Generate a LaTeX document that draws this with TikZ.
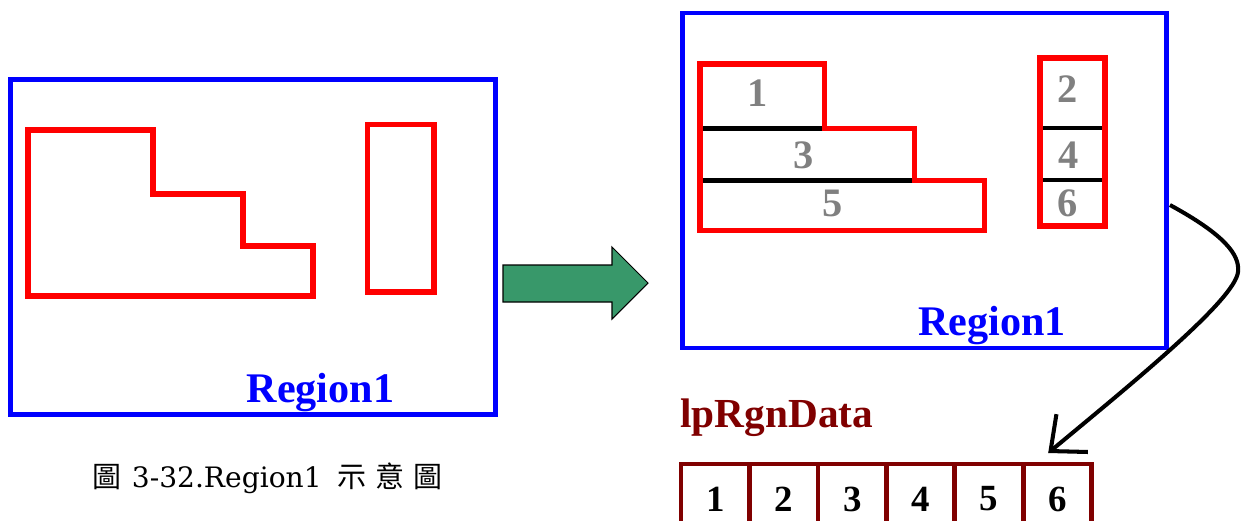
\documentclass[tikz,border=0pt]{standalone}
\usepackage{fontspec}
\usepackage{tikz}
\usetikzlibrary{arrows.meta,positioning}
\newfontfamily\lblfont{Liberation Serif}
\newfontfamily\capfont{DejaVu Serif}
\newfontfamily\cjk{Noto Sans CJK TC}
\definecolor{rgnblue}{RGB}{0,0,255}
\definecolor{rgnred}{RGB}{255,0,0}
\definecolor{datared}{RGB}{128,0,0}
\definecolor{rectgray}{RGB}{128,128,128}
\definecolor{movegreen}{RGB}{56,152,106}
\tikzset{
    %Define standard arrow tip
    >={Straight Barb[length=16pt,width=28pt]},
    %Define style for region boxes
    regionbox/.style={
           rectangle,
           draw=rgnblue, line width=2.8pt,
           outer sep=0pt,
           minimum width=9.7cm,
           minimum height=6.7cm},
    %Define style for red outlines
    outline/.style={
           draw=rgnred, line width=3.1pt},
    splitline/.style={
           draw=black, line width=2.8pt},
    rgnlabel/.style={
           text=rgnblue,
           font=\lblfont\bfseries\fontsize{24}{28}\selectfont},
    rectnum/.style={
           text=rectgray, inner sep=0pt,
           font=\lblfont\bfseries\fontsize{23}{27}\selectfont},
    %Define style for array cells
    cell/.style={
           rectangle,
           draw=datared, line width=2.8pt,
           outer sep=0pt,
           minimum width=1.37cm,
           minimum height=1.4cm,
           font=\lblfont\bfseries\fontsize{21}{25}\selectfont,
           text centered},
    % Define arrow style
    link/.style={
           ->,
           line width=2.3pt}
}

\begin{document}
\begin{tikzpicture}[x=0.02cm,y=-0.02cm]
\useasboundingbox (0,0) rectangle (1249,521);

 %left region
\node[regionbox] (rgnA) at (253,247) {};
\draw[outline] (28,130) -- (153,130) -- (153,194) -- (243,194) -- (243,246)
    -- (313,246) -- (313,296) -- (28,296) -- cycle;
\draw[outline] (367.5,124.5) rectangle (434,292);
\node[rgnlabel, anchor=base] (lblA) at (320.5,402) {Region1};

\node[anchor=base west, inner sep=0pt, font=\capfont\fontsize{16}{20}\selectfont] (caption) at (92,487)
    {{\cjk\fontsize{16.5}{20}\selectfont 圖}\hspace{6pt}3-32.Region1\hspace{9pt}{\cjk\fontsize{16.5}{20}\selectfont 示\hspace{5pt}意\hspace{5pt}圖}};

 %move arrow
\draw[black, line width=0.6pt, fill=movegreen] (503,265) -- (612,265) -- (612,247)
    -- (648,283) -- (612,319) -- (612,302) -- (503,302) -- cycle;

 %right region, split into rectangles
\node[regionbox] (rgnB) at (924.5,180.5) {};
\draw[splitline] (700,128.5) -- (824.5,128.5);
\draw[splitline] (700,180.5) -- (914.5,180.5);
\draw[splitline] (1040,128) -- (1105,128);
\draw[splitline] (1040,180) -- (1105,180);
\draw[outline] (700,64) -- (824.5,64) -- (824.5,128.5) -- (914.5,128.5) -- (914.5,180.5)
    -- (984.5,180.5) -- (984.5,230.5) -- (700,230.5) -- cycle;
\draw[outline] (1040,58) rectangle (1105,226);
\node[rectnum] (n1) at (758,93.5) {1};
\node[rectnum] (n3) at (804,155) {3};
\node[rectnum] (n5) at (833,203) {5};
\node[rectnum] (n2) at (1068,89) {2};
\node[rectnum] (n4) at (1069,155) {4};
\node[rectnum] (n6) at (1068,203) {6};
\node[rgnlabel, anchor=base] (lblB) at (992,335) {Region1};

 %data array
\node[anchor=base west, inner sep=0pt, text=datared,
    font=\lblfont\bfseries\fontsize{23.5}{28}\selectfont] (data) at (680,427) {lpRgnData};
\node[cell] (c1) at (715.25,499) {1};
\node[cell, right=0pt of c1] (c2) {2};
\node[cell, right=0pt of c2] (c3) {3};
\node[cell, right=0pt of c3] (c4) {4};
\node[cell, right=0pt of c4] (c5) {5};
\node[cell, right=0pt of c5] (c6) {6};

\draw[link] ([shift={(0.06cm,-0.49cm)}]rgnB.east) .. controls (1225,235) and (1240,255) .. (1238,272)
    .. controls (1235,300) and (1130,385) .. ([shift={(-0.19cm,0.22cm)}]c6.north);

\end{tikzpicture}
\end{document}
